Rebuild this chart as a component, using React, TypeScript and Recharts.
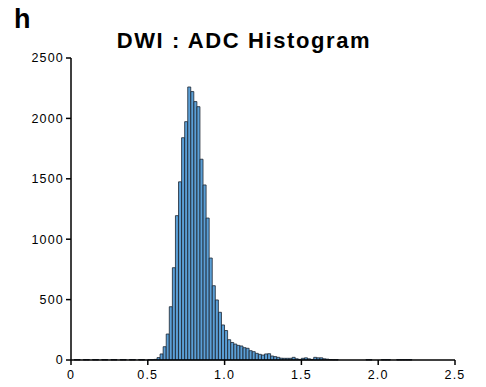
import { BarChart, Bar, XAxis, YAxis } from 'recharts';

// histogram bins of width 0.02, from 0 to 2.5 (125 bins)
const binWidth = 0.02;
const counts = [
  0, 4, 4, 0, 4, 4, 0, 4, 4, 0, 4, 4, 0, 4, 4, 0, 4, 4, 0, 4, 4, 0, 4, 4, 0, 3, 3,
  5, 20, 50, 110, 215, 441, 764, 1195, 1475, 1840, 1973, 2260, 2222, 2139, 2097,
  1662, 1449, 1175, 844, 615, 497, 395, 290, 244, 168, 145, 132, 121, 116, 102, 97,
  77, 69, 55, 47, 41, 50, 52, 33, 28, 22, 15, 14, 14, 14, 22, 10, 5, 14, 18, 10, 5,
  22, 18, 18, 10, 7, 4, 3, 3, 0, 0, 0, 0, 0, 0, 0, 0, 0, 3, 3, 0, 0, 0, 3, 3, 3, 0,
  0, 3, 3, 3, 3, 3, 0, 0, 0, 0, 0, 0, 0, 0, 0, 0, 0, 0, 0, 0,
];
const xTicks = [0, 0.5, 1.0, 1.5, 2.0, 2.5];
const yTicks = [0, 500, 1000, 1500, 2000, 2500];

const data = counts.map((count, i) => ({
  adc: +(binWidth * i + binWidth / 2).toFixed(3),
  count,
}));

const FONT = '"Liberation Sans", Arial, Helvetica, sans-serif';

export default function App() {
  return (
    <div style={{ position: 'absolute', left: 0, top: 0, width: 486, height: 387, background: '#fff', fontFamily: FONT }}>
      <div style={{ position: 'absolute', left: 14, top: 4, fontSize: 27, fontWeight: 700 }}>h</div>
      <div
        style={{
          position: 'absolute',
          left: 0,
          width: 486,
          top: 28,
          textAlign: 'center',
          fontSize: 22,
          fontWeight: 700,
          letterSpacing: 1.6,
          transform: 'translateX(1px)',
        }}
      >
        DWI : ADC Histogram
      </div>
      <BarChart
        width={486}
        height={387}
        data={data}
        margin={{ top: 58, right: 31, left: 11, bottom: 7 }}
        barCategoryGap={0}
        barGap={0}
      >
        <XAxis
          dataKey="adc"
          type="number"
          domain={[0, 2.5]}
          ticks={xTicks}
          tickFormatter={(v: number) => (v === 0 ? '0' : v.toFixed(1))}
          height={20}
          tickSize={5}
          tickMargin={5}
          axisLine={{ stroke: '#000', strokeWidth: 1.5 }}
          tickLine={{ stroke: '#000', strokeWidth: 1.5 }}
          tick={{ fill: '#000', fontSize: 12.5, fontFamily: FONT, letterSpacing: 1.2 }}
          allowDataOverflow
        />
        <YAxis
          type="number"
          domain={[0, 2500]}
          ticks={yTicks}
          width={60}
          tickSize={5}
          tickMargin={2}
          axisLine={{ stroke: '#000', strokeWidth: 1.5 }}
          tickLine={{ stroke: '#000', strokeWidth: 1.5 }}
          tick={{ fill: '#000', fontSize: 12.5, fontFamily: FONT, letterSpacing: 1.2 }}
        />
        <Bar dataKey="count" fill="#5b9fd6" stroke="#1c2530" strokeWidth={0.8} isAnimationActive={false} />
      </BarChart>
    </div>
  );
}
